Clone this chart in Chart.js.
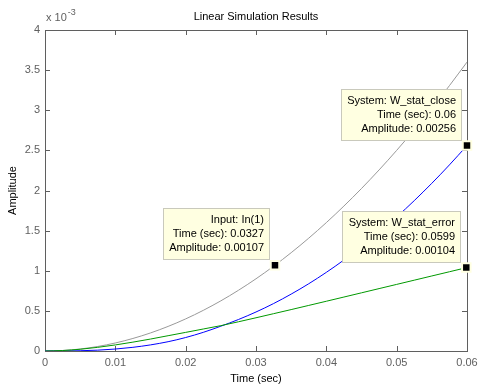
<!DOCTYPE html>
<html>
<head>
<meta charset="utf-8">
<title>Linear Simulation Results</title>
<script src="https://cdn.jsdelivr.net/npm/chart.js@4.4.0/dist/chart.umd.min.js"></script>
<style>
    html, body { margin: 0; padding: 0; background: #fff; }
</style>
</head>
<body>
<canvas id="sim-chart" width="501" height="386"></canvas>
<script>
// values (seconds / amplitude)
const timeSec = [0, 0.0025, 0.005, 0.0075, 0.01, 0.0125, 0.015, 0.0175, 0.02, 0.0225, 0.025, 0.0275,
    0.03, 0.0325, 0.035, 0.0375, 0.04, 0.0425, 0.045, 0.0475, 0.05, 0.0525, 0.055, 0.0575, 0.06];
const inputIn1 = [0, 0.0000063, 0.000025, 0.0000563, 0.0001, 0.0001563, 0.000225, 0.0003063, 0.0004,
    0.0005063, 0.000625, 0.0007563, 0.0009, 0.0010563, 0.001225, 0.0014063, 0.0016, 0.0018063, 0.002025,
    0.0022563, 0.0025, 0.0027563, 0.003025, 0.0033063, 0.0036];
const statClose = [0, 0.0000004, 0.0000032, 0.0000107, 0.0000244, 0.0000459, 0.0000761, 0.0001158,
    0.000168, 0.0002323, 0.000309, 0.0003923, 0.000486, 0.0005913, 0.000709, 0.0008383, 0.00098,
    0.0011338, 0.0013, 0.0014788, 0.00167, 0.0018738, 0.00209, 0.0023188, 0.00256];
const statError = [0, 0.0000059, 0.0000218, 0.0000456, 0.0000756, 0.0001104, 0.0001489, 0.0001905,
    0.000232, 0.000274, 0.000316, 0.000364, 0.000414, 0.000465, 0.000516, 0.000568, 0.00062,
    0.0006725, 0.000725, 0.0007775, 0.00083, 0.0008825, 0.000935, 0.0009875, 0.00104];

const xTicks = [0, 0.01, 0.02, 0.03, 0.04, 0.05, 0.06];
const xTickLabels = ['0', '0.01', '0.02', '0.03', '0.04', '0.05', '0.06'];
const yTicks = [0, 0.0005, 0.001, 0.0015, 0.002, 0.0025, 0.003, 0.0035, 0.004];
const yTickLabels = ['0', '0.5', '1', '1.5', '2', '2.5', '3', '3.5', '4'];

// data tips
const tipNames = ['Input: In(1)', 'System: W_stat_close', 'System: W_stat_error'];
const tipTimes = [0.0327, 0.06, 0.0599];
const tipAmps = [0.00107, 0.00256, 0.00104];

const FONT = '"Liberation Sans", Arial, sans-serif';
const AXIS_COLOR = '#5f5f5f';

const axesBox = {
    id: 'axesBox',
    beforeDatasetsDraw(chart) {
        const { ctx, chartArea: a, scales: { x, y } } = chart;
        ctx.save();
        ctx.strokeStyle = AXIS_COLOR;
        ctx.lineWidth = 1;
        ctx.beginPath();
        xTicks.forEach((v) => {
            const px = Math.round(x.getPixelForValue(v)) + 0.5;
            ctx.moveTo(px, a.bottom); ctx.lineTo(px, a.bottom - 5);
            ctx.moveTo(px, a.top); ctx.lineTo(px, a.top + 5);
        });
        yTicks.forEach((v) => {
            const py = Math.round(y.getPixelForValue(v)) + 0.5;
            ctx.moveTo(a.left, py); ctx.lineTo(a.left + 5, py);
            ctx.moveTo(a.right, py); ctx.lineTo(a.right - 5, py);
        });
        ctx.stroke();
        ctx.strokeRect(a.left + 0.5, a.top + 0.5, a.right - a.left, a.bottom - a.top);

        // exponent label
        ctx.fillStyle = AXIS_COLOR;
        ctx.textBaseline = 'alphabetic';
        ctx.font = `11px ${FONT}`;
        ctx.fillText('x 10', a.left + 1, a.top - 9);
        const w = ctx.measureText('x 10').width;
        ctx.font = `9px ${FONT}`;
        ctx.fillText('-3', a.left + 2 + w, a.top - 15);
        ctx.restore();
    },
};

const dataTips = {
    id: 'dataTips',
    afterDatasetsDraw(chart) {
        const { ctx, scales: { x, y } } = chart;
        ctx.save();
        ctx.font = `11px ${FONT}`;
        tipTimes.forEach((t, i) => {
            const lines = [tipNames[i], `Time (sec): ${t}`, `Amplitude: ${tipAmps[i]}`];
            const px = Math.round(x.getPixelForValue(t));
            const py = Math.round(y.getPixelForValue(tipAmps[i]));
            const w = Math.ceil(Math.max(...lines.map((l) => ctx.measureText(l).width))) + 12;
            const h = 52;
            const right = px - 5;
            const bottom = py - 5;
            ctx.fillStyle = '#ffffe1';
            ctx.fillRect(right - w, bottom - h, w, h);
            ctx.strokeStyle = '#c9c9bc';
            ctx.lineWidth = 1;
            ctx.strokeRect(right - w + 0.5, bottom - h + 0.5, w - 1, h - 1);
            ctx.fillStyle = '#000';
            ctx.textAlign = 'right';
            ctx.textBaseline = 'middle';
            lines.forEach((l, k) => ctx.fillText(l, right - 6, bottom - h + 12 + k * 14));
        });
        ctx.restore();
    },
};

const lineSet = (label, data, color, order) => ({
    label,
    data: timeSec.map((t, i) => ({ x: t, y: data[i] })),
    borderColor: color,
    borderWidth: 1,
    pointRadius: 0,
    cubicInterpolationMode: 'monotone',
    order,
});

new Chart(document.getElementById('sim-chart'), {
    type: 'line',
    data: {
        datasets: [
            {
                label: 'tips',
                data: tipTimes.map((t, i) => ({ x: t, y: tipAmps[i] })),
                showLine: false,
                pointStyle: 'rect',
                pointRadius: 6,
                backgroundColor: '#000',
                borderColor: '#ffffe1',
                borderWidth: 2,
                clip: false,
                order: 0,
            },
            lineSet('W_stat_error', statError, '#009900', 1),
            lineSet('W_stat_close', statClose, '#0000ff', 2),
            lineSet('In(1)', inputIn1, '#999999', 3),
        ],
    },
    options: {
        responsive: false,
        animation: false,
        layout: { padding: { left: 0, right: 34, top: 0, bottom: 0 } },
        plugins: {
            legend: { display: false },
            tooltip: { enabled: false },
            title: {
                display: true,
                fullSize: false,
                text: 'Linear Simulation Results',
                color: '#000',
                font: { family: FONT, size: 11, weight: 'normal', lineHeight: '13px' },
                padding: { top: 10, bottom: 7 },
            },
        },
        scales: {
            x: {
                type: 'linear',
                min: 0,
                max: 0.06,
                afterBuildTicks: (scale) => { scale.ticks = xTicks.map((v) => ({ value: v })); },
                afterFit: (scale) => { scale.height = 35; },
                grid: { display: false, drawTicks: false },
                border: { display: false },
                ticks: {
                    color: AXIS_COLOR,
                    padding: 5,
                    maxRotation: 0,
                    autoSkip: false,
                    font: { family: FONT, size: 11, lineHeight: '13px' },
                    callback: (v, i) => xTickLabels[i],
                },
                title: {
                    display: true,
                    text: 'Time (sec)',
                    color: '#000',
                    font: { family: FONT, size: 11, lineHeight: '13px' },
                    padding: { top: 0, bottom: 1 },
                },
            },
            y: {
                type: 'linear',
                min: 0,
                max: 0.004,
                afterBuildTicks: (scale) => { scale.ticks = yTicks.map((v) => ({ value: v })); },
                afterFit: (scale) => { scale.width = 45; },
                grid: { display: false, drawTicks: false },
                border: { display: false },
                ticks: {
                    color: AXIS_COLOR,
                    padding: 5,
                    autoSkip: false,
                    font: { family: FONT, size: 11, lineHeight: '13px' },
                    callback: (v, i) => yTickLabels[i],
                },
                title: {
                    display: true,
                    text: 'Amplitude',
                    color: '#000',
                    font: { family: FONT, size: 11, lineHeight: '13px' },
                    padding: { top: 6, bottom: 0 },
                },
            },
        },
    },
    plugins: [axesBox, dataTips],
});
</script>
</body>
</html>
